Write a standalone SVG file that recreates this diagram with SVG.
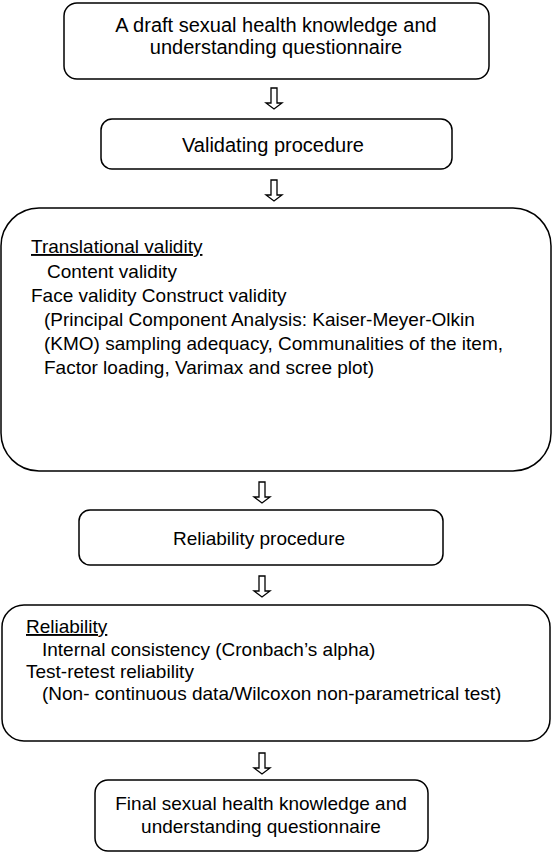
<svg xmlns="http://www.w3.org/2000/svg" width="553" height="853" viewBox="0 0 553 853">
<style>
.box{fill:#fff;stroke:#000;stroke-width:1.5}
.t{font-family:"Liberation Sans",Arial,sans-serif;font-size:19px;fill:#000}
.big{font-size:20px}
.c{text-anchor:middle}
.arr{fill:#fff;stroke:#000;stroke-width:1.3;stroke-linejoin:miter}
</style>
<defs>
<path id="dn" d="M-3,0 H3 V15 H8 L0,21 L-8,15 H-3 Z" class="arr"/>
</defs>
<rect width="553" height="853" fill="#fff"/>
<g id="connectors">
<use href="#dn" x="274" y="88"/>
<use href="#dn" x="274" y="180"/>
<use href="#dn" x="262" y="482"/>
<use href="#dn" x="262" y="576"/>
<use href="#dn" x="262" y="753"/>
</g>
<g id="n1">
<rect class="box" x="64" y="3" width="425" height="76" rx="13"/>
<text class="t big c" x="276" y="32">A draft sexual health knowledge and</text>
<text class="t big c" x="276" y="54">understanding questionnaire</text>
</g>
<g id="n2">
<rect class="box" x="101" y="119" width="351" height="50" rx="11"/>
<text class="t big c" x="273" y="152">Validating procedure</text>
</g>
<g id="n3">
<rect class="box" x="1" y="208" width="550" height="263" rx="38"/>
<text class="t" x="31" y="253" text-decoration="underline">Translational validity</text>
<text class="t" x="47" y="278">Content validity</text>
<text class="t" x="31" y="302">Face validity Construct validity</text>
<text class="t" x="44" y="326">(Principal Component Analysis: Kaiser-Meyer-Olkin</text>
<text class="t" x="44" y="350">(KMO) sampling adequacy, Communalities of the item,</text>
<text class="t" x="44" y="374">Factor loading, Varimax and scree plot)</text>
</g>
<g id="n4">
<rect class="box" x="79" y="510" width="364" height="55" rx="11"/>
<text class="t c" x="259" y="545">Reliability procedure</text>
</g>
<g id="n5">
<rect class="box" x="2" y="605" width="548" height="136" rx="22"/>
<text class="t" x="26" y="633" text-decoration="underline">Reliability</text>
<text class="t" x="42" y="656">Internal consistency (Cronbach’s alpha)</text>
<text class="t" x="26" y="678">Test-retest reliability</text>
<text class="t" x="42" y="700">(Non- continuous data/Wilcoxon non-parametrical test)</text>
</g>
<g id="n6">
<rect class="box" x="95" y="780" width="333" height="71" rx="13"/>
<text class="t c" x="261" y="810">Final sexual health knowledge and</text>
<text class="t c" x="261" y="833">understanding questionnaire</text>
</g>
</svg>
